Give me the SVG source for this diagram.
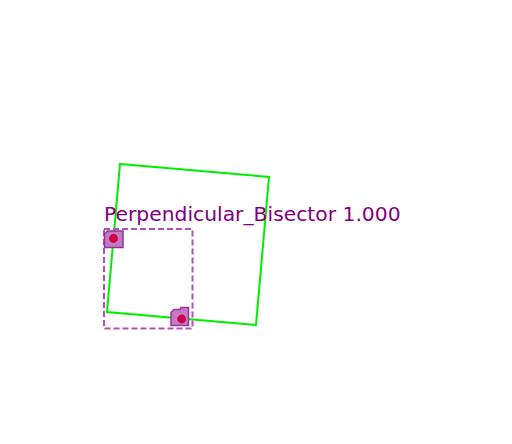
<svg xmlns="http://www.w3.org/2000/svg" width="512" height="444" viewBox="0 0 512 444">
<style>
.handle{fill:#c27bc2;stroke:#993399;stroke-width:1.5}
.dot{fill:#cc0044}
.lbl{font-family:"DejaVu Sans",sans-serif;font-size:20.3px;fill:#800080}
</style>
<rect width="512" height="444" fill="#ffffff"/>
<g id="connectors">
<polygon points="120,164 269,177 256,325 107,312" fill="none" stroke="#00ee00" stroke-width="2"/>
</g>
<g id="label">
<text class="lbl" x="104" y="221">Perpendicular_Bisector 1.000</text>
</g>
<g id="bbox">
<rect x="104" y="229" width="88.5" height="99.5" fill="none" stroke="#b050b0" stroke-width="2" stroke-dasharray="6,3"/>
</g>
<g id="handle1">
<path class="handle" d="M107.5,231 H123 V247.5 H104.5 V234 Z"/>
<circle class="dot" cx="113.5" cy="238.5" r="4.4"/>
</g>
<g id="handle2">
<path class="handle" d="M174,309.5 H180 L181,307.5 H188.5 V325.5 H171 V312.5 Z"/>
<circle class="dot" cx="181.7" cy="319" r="4.4"/>
</g>
</svg>
